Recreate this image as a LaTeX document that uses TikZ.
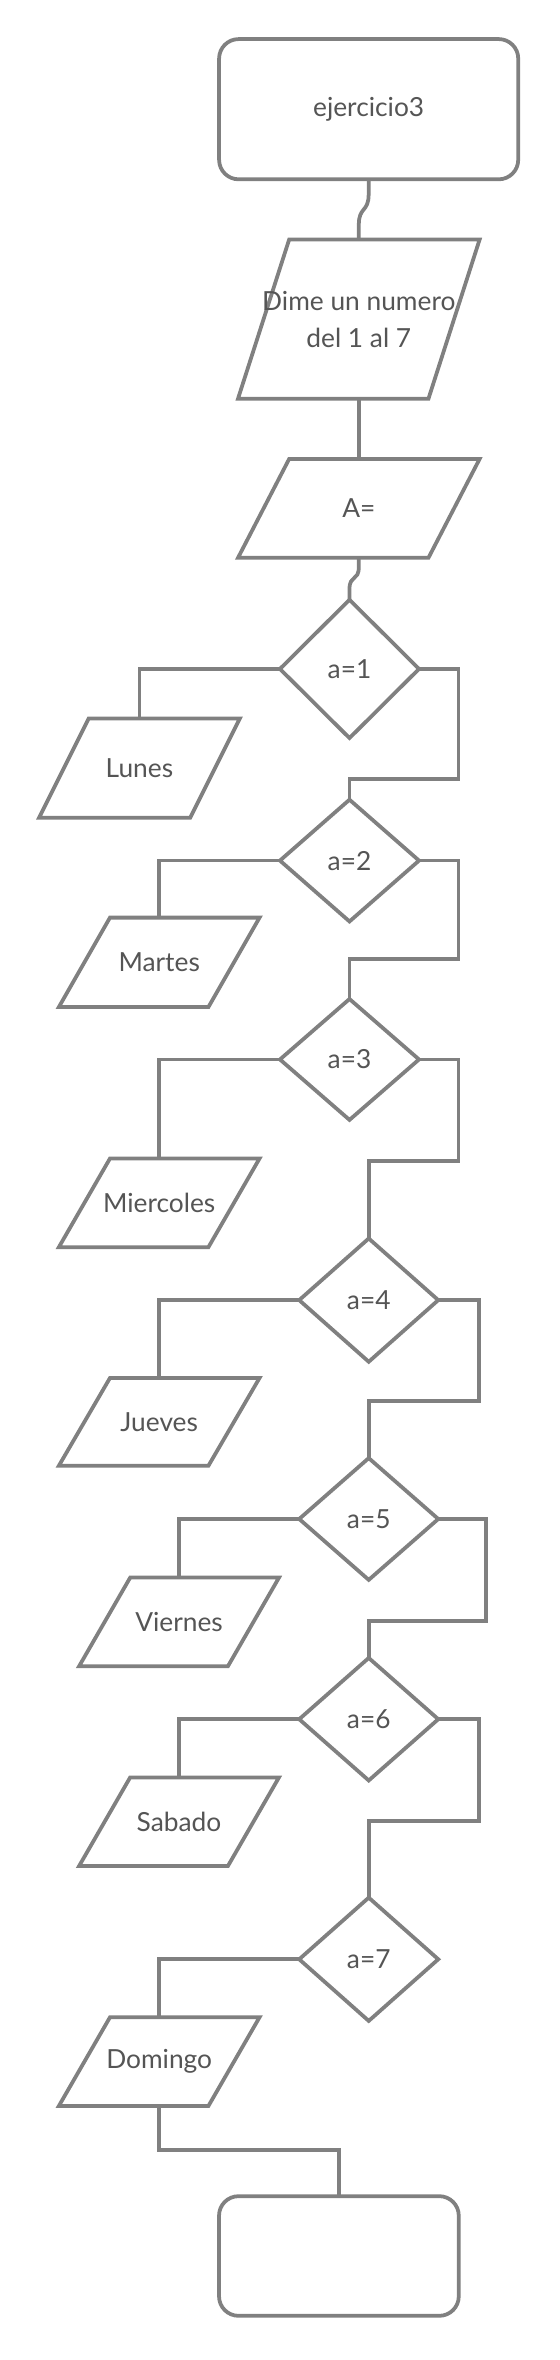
\documentclass[tikz,border=0pt]{standalone}
\usepackage{fontspec}
\setmainfont{Lato}
\usetikzlibrary{shapes.geometric,calc}
\definecolor{ln}{HTML}{808080}
\definecolor{tx}{HTML}{555555}
\tikzset{
  shp/.style={draw=ln, line width=2.5pt, fill=white},
  txt/.style={text=tx, font=\fontsize{17.5}{24.6}\selectfont, inner sep=0pt, align=center},
  dia/.style={diamond, draw=ln, line width=2.5pt, inner sep=0pt, outer sep=0pt, text=tx,
    font=\fontsize{17.5}{24.6}\selectfont, minimum width=92.5pt},
  term/.style={rectangle, rounded corners=13pt, draw=ln, line width=2.5pt, inner sep=0pt, outer sep=0pt,
    text=tx, font=\fontsize{17.5}{24.6}\selectfont},
  con/.style={draw=ln, line width=2.5pt}
}
\newcommand\pbox[7]{%
  \draw[shp] ({#2-#4/2+#6/2},{#3-#5/2}) -- ({#2+#4/2+#6/2},{#3-#5/2}) -- ({#2+#4/2-#6/2},{#3+#5/2}) -- ({#2-#4/2-#6/2},{#3+#5/2}) -- cycle;
  \node[txt] (#1) at (#2,#3) {#7};
  \coordinate (#1-t) at (#2,{#3-#5/2});
  \coordinate (#1-b) at (#2,{#3+#5/2});
}
\begin{document}
\begin{tikzpicture}[x=1pt,y=-1pt]
\useasboundingbox (0,0) rectangle (372.5,1570);
\fill[white] (0,0) rectangle (372.5,1570);

% terminals
\node[term, minimum width=199pt, minimum height=93.3pt] (start) at (245.25,72.65) {ejercicio3};
\node[term, minimum width=159.5pt, minimum height=79.6pt] (end) at (225.45,1500.8) {};

% input boxes
\pbox{dime}{238.7}{212.3}{126.7}{105.8}{34}{Dime un numero\\del 1 al 7}
\pbox{aeq}{238.7}{338.2}{126.7}{65.7}{34}{A=}
\pbox{lunes}{92.75}{511}{100.5}{66}{33}{Lunes}
\pbox{martes}{105.9}{640.2}{99.5}{59.5}{34}{Martes}
\pbox{mier}{105.9}{800.2}{99.5}{59}{34}{Miercoles}
\pbox{jueves}{105.9}{945.9}{99.5}{58.4}{34}{Jueves}
\pbox{viernes}{119.1}{1079}{99}{59}{34}{Viernes}
\pbox{sabado}{119.1}{1211.9}{99}{59}{34}{Sabado}
\pbox{domingo}{105.9}{1371.5}{99.5}{59}{34}{Domingo}

% decisions
\node[dia, minimum height=92pt] (d1) at (232.5,445) {a=1};
\node[dia, minimum height=81pt] (d2) at (232.5,572.5) {a=2};
\node[dia, minimum height=80.4pt] (d3) at (232.5,704.8) {a=3};
\node[dia, minimum height=82pt] (d4) at (245.3,864.9) {a=4};
\node[dia, minimum height=81pt] (d5) at (245.3,1010.5) {a=5};
\node[dia, minimum height=81.5pt] (d6) at (245.3,1143.7) {a=6};
\node[dia, minimum height=82pt] (d7) at (245.3,1303.4) {a=7};

% connectors
\draw[con] (start.south) -- ++(0,10) .. controls +(0,12) and ($(dime-t)+(0,-22)$) .. ($(dime-t)+(0,-10)$) -- (dime-t);
\draw[con] (dime-b) -- (aeq-t);
\draw[con] (aeq-b) -- ++(0,6) .. controls +(0,10) and ($(d1.north)+(0,-17)$) .. ($(d1.north)+(0,-7)$) -- (d1.north);

\draw[con] (d1.west) -| (lunes-t);
\draw[con] (d2.west) -| (martes-t);
\draw[con] (d3.west) -| (mier-t);
\draw[con] (d4.west) -| (jueves-t);
\draw[con] (d5.west) -| (viernes-t);
\draw[con] (d6.west) -| (sabado-t);
\draw[con] (d7.west) -| (domingo-t);

\draw[con] (d1.east) -| ++(26.25,73) -| (d2.north);
\draw[con] (d2.east) -| ++(26.25,65.4) -| (d3.north);
\draw[con] (d3.east) -| ++(26.25,67.8) -| (d4.north);
\draw[con] (d4.east) -| ++(27.15,67.3) -| (d5.north);
\draw[con] (d5.east) -| ++(31.95,68) -| (d6.north);
\draw[con] (d6.east) -| ++(27.15,67.8) -| (d7.north);

\draw[con] (domingo-b) -- ++(0,29.4) -| (end.north);
\end{tikzpicture}
\end{document}
